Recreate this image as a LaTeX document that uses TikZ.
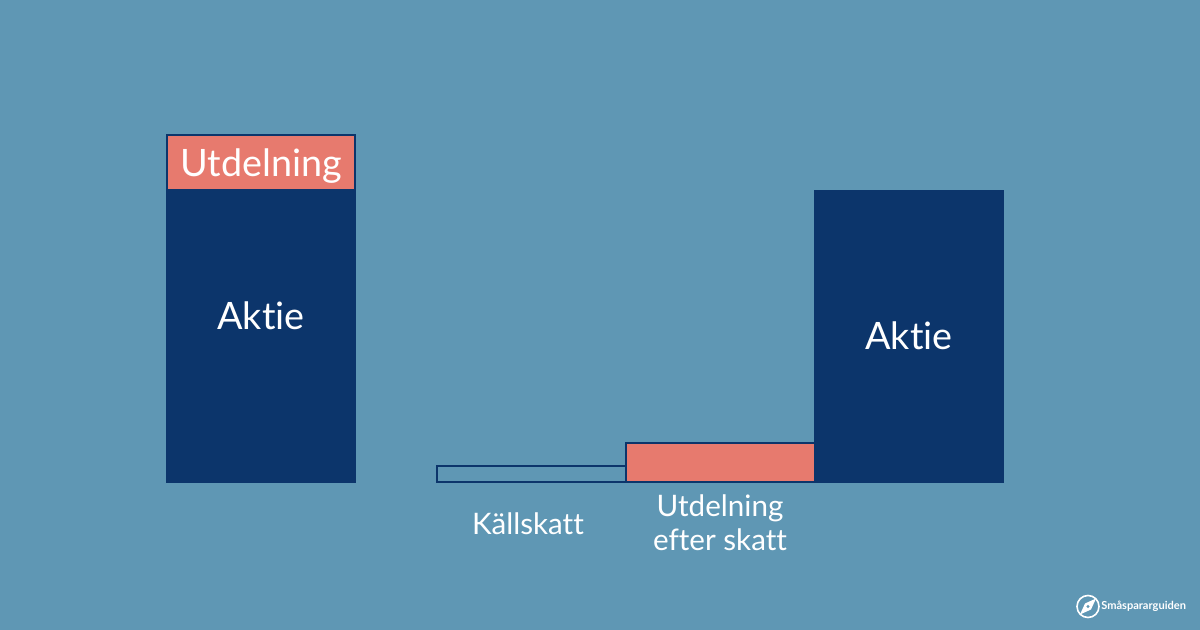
\documentclass[tikz,border=0pt]{standalone}
\usepackage{fontspec}
\setmainfont[Ligatures=NoCommon]{Lato}
\usepackage{tikz}

\definecolor{bggrey}{rgb}{0.373,0.592,0.706}
\definecolor{navy}{rgb}{0.047,0.208,0.42}
\definecolor{coral}{rgb}{0.906,0.478,0.431}
\tikzset{
  bar/.style={draw=navy,line width=1.5pt},
  biglabel/.style={text=white,inner sep=0.75pt,font=\fontsize{28.3}{33}\selectfont},
  smalllabel/.style={text=white,inner sep=0.75pt,align=center,font=\fontsize{22.2}{25.5}\selectfont}
}

\begin{document}
\begin{tikzpicture}[x=0.75pt,y=0.75pt,yscale=-1,xscale=1]
\useasboundingbox (0,0) rectangle (1200,630);

%Shape: Background
\fill [bggrey] (0,0) rectangle (1200,630);
%Shape: Left share
\draw [bar,fill=navy] (166.5,190) rectangle (355,482);
%Shape: Left dividend
\draw [bar,fill=coral] (166.5,135) rectangle (355,190);
%Shape: Withholding tax
\draw [bar] (436.5,466) rectangle (625.5,482);
%Shape: Dividend after tax
\draw [bar,fill=coral] (625.5,443) rectangle (814.5,482);
%Shape: Right share
\draw [bar,fill=navy] (814.5,191) rectangle (1003,482);
%Shape: Logo ring
\draw [white,line width=1.2pt] (1088,606.5) circle (11);
%Shape: Logo needle
\fill [white] (1096,598.5) -- (1091,609.5) -- (1080,614.5) -- (1085,603.5) -- cycle;
\fill [bggrey] (1088,606.5) circle (1.6);

% Text Node
\node (utdelningtop) [biglabel] at (261,166) {Utdelning};
% Text Node
\node (aktieleft) [biglabel] at (261,316) {Aktie};
% Text Node
\node (aktieright) [biglabel] at (909,336) {Aktie};
% Text Node
\node (kallskatt) [smalllabel] at (528,524) {Källskatt};
% Text Node
\node (utdelningnet) [smalllabel] at (720,523) {Utdelning\\efter skatt};
% Text Node
\node (logotext) [text=white,inner sep=0.75pt,anchor=west,font=\bfseries\fontsize{8.3}{10}\selectfont] at (1100,606) {Småspararguiden};

\end{tikzpicture}
\end{document}
